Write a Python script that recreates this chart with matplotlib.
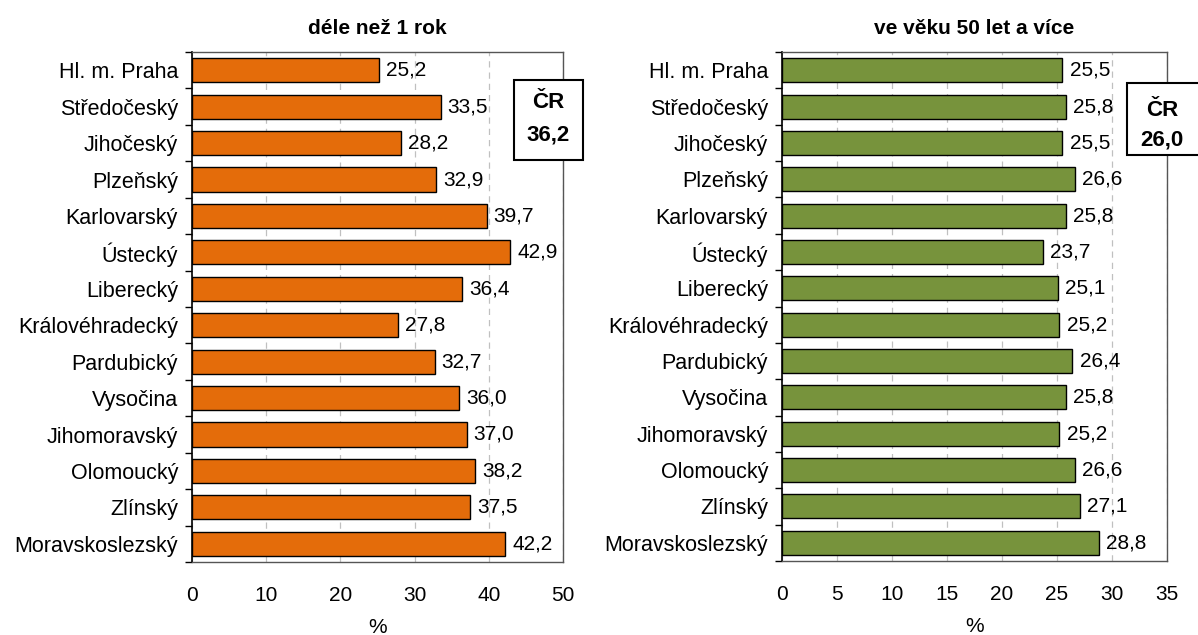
import numpy as np
import matplotlib.pyplot as plt

plt.rcParams['font.family'] = ['Liberation Sans', 'DejaVu Sans']

# Kraje (shora dolů)
kraje = ['Hl. m. Praha', 'Středočeský', 'Jihočeský', 'Plzeňský', 'Karlovarský',
         'Ústecký', 'Liberecký', 'Královéhradecký', 'Pardubický', 'Vysočina',
         'Jihomoravský', 'Olomoucký', 'Zlínský', 'Moravskoslezský']

# podíl nezaměstnaných déle než 1 rok (%)
dele_1_rok = [25.2, 33.5, 28.2, 32.9, 39.7, 42.9, 36.4, 27.8, 32.7, 36.0, 37.0, 38.2, 37.5, 42.2]
# podíl nezaměstnaných ve věku 50 let a více (%)
vek_50 = [25.5, 25.8, 25.5, 26.6, 25.8, 23.7, 25.1, 25.2, 26.4, 25.8, 25.2, 26.6, 27.1, 28.8]

cr_hodnoty = ['36,2', '26,0']
tituly = ['déle než 1 rok', 've věku 50 let a více']
barvy = ['#E46C0A', '#77933C']
x_max = [50, 35]
x_krok = [10, 5]

W, H = 1198, 635
fig = plt.figure(figsize=(W / 100, H / 100), dpi=100)

# pozice os v pixelech: (levý, horní, pravý, dolní)
pozice = [(192, 52, 563, 562), (782, 52, 1167, 561)]
boxy = [(514, 80, 583, 160), (1127, 83, 1205, 155)]
stredy_boxu = [548, 1162]
posuny_textu = [(23, 55), (27, 57)]

for i in range(2):
    l, t, r, b = pozice[i]
    ax = fig.add_axes([l / W, (H - b) / H, (r - l) / W, (b - t) / H])
    hodnoty = [dele_1_rok, vek_50][i]
    y = np.arange(len(kraje))
    ax.barh(y, hodnoty, height=0.66, color=barvy[i], edgecolor='black', linewidth=1.0, zorder=3)
    for yy, v in zip(y, hodnoty):
        ax.text(v + x_max[i] * 0.019, yy, f'{v:.1f}'.replace('.', ','), va='center', ha='left',
                fontsize=15, zorder=4)
    ax.set_xlim(0, x_max[i])
    ax.set_ylim(len(kraje) - 0.5, -0.5)
    ax.set_yticks(y)
    ax.set_yticklabels(kraje, fontsize=15.5)
    ax.set_yticks(np.arange(-0.5, len(kraje)), minor=True)
    ax.tick_params(axis='y', which='major', length=0, pad=10)
    ax.tick_params(axis='y', which='minor', length=5, width=1, direction='out')
    ticks = np.arange(0, x_max[i] + 0.1, x_krok[i])
    ax.set_xticks(ticks)
    ax.set_xticklabels([str(int(t_)) for t_ in ticks], fontsize=15)
    ax.tick_params(axis='x', length=0, pad=17.5)
    ax.set_xlabel('%', fontsize=15, labelpad=9)
    ax.xaxis.grid(True, linestyle=(0, (5, 4)), color='#C0C0C0', linewidth=0.9, zorder=0)
    ax.set_axisbelow(True)
    for s in ['top', 'right', 'bottom']:
        ax.spines[s].set_color('#555555')
        ax.spines[s].set_linewidth(1.0)
    ax.spines['left'].set_color('black')
    ax.spines['left'].set_linewidth(1.2)
    ax.set_title(tituly[i], fontsize=15, fontweight='bold', pad=13)

    # rámeček s hodnotou za ČR
    bl, bt, br, bb = boxy[i]
    rect = plt.Rectangle((bl / W, (H - bb) / H), (br - bl) / W, (bb - bt) / H,
                         transform=fig.transFigure, facecolor='white', edgecolor='black',
                         linewidth=1.5, zorder=10)
    fig.add_artist(rect)
    cx = stredy_boxu[i] / W
    d1, d2 = posuny_textu[i]
    fig.text(cx, (H - (bt + d1)) / H, 'ČR', ha='center', va='center', fontsize=16,
             fontweight='bold', zorder=11)
    fig.text(cx, (H - (bt + d2)) / H, cr_hodnoty[i], ha='center', va='center', fontsize=16,
             fontweight='bold', zorder=11)

fig.savefig('out.png', dpi=100)
